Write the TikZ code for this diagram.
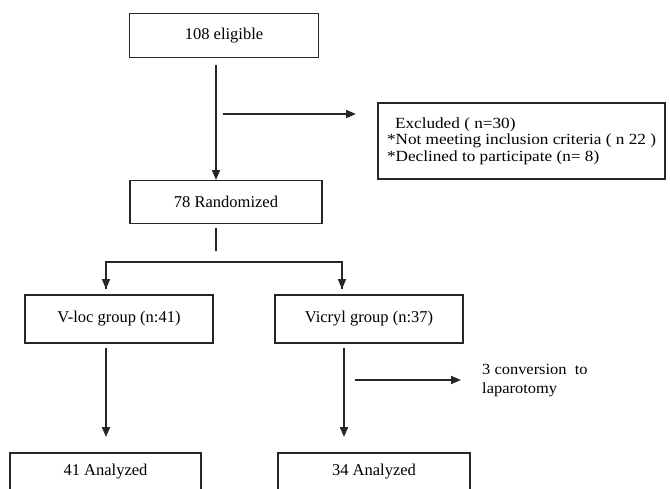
\documentclass[tikz,border=0pt]{standalone}
\usepackage{fontspec}
\setmainfont{Liberation Serif}
\newfontfamily\widefont[FakeStretch=1.11]{Liberation Serif}
\newfontfamily\convfont[FakeStretch=1.06]{Liberation Serif}
\usetikzlibrary{arrows.meta}
\begin{document}
\begin{tikzpicture}[x=1pt,y=-1pt,
  box/.style={draw=black!85,line width=1.6pt,minimum width=#1,inner sep=0pt,font=\fontsize{16.5}{18}\selectfont},
  conn/.style={draw=black!85,line width=1.8pt},
  arr/.style={conn,-{Triangle[length=10pt,width=8pt]}}]
\useasboundingbox (0,0) rectangle (670,488);
\node[box=287pt,minimum height=76pt,align=left,font=\widefont\fontsize{15.5}{16.5}\selectfont] (excl) at (521.5,141)
  {\hspace*{8pt}Excluded ( n=30)\\{*}Not meeting inclusion criteria ( n 22 )\\{*}Declined to participate (n= 8)};
\node[box=189pt,minimum height=44pt] (elig) at (224,35.5) {108 eligible};
\node[box=192pt,minimum height=43pt] (rand) at (226,202) {78 Randomized};
\node[box=188pt,minimum height=48pt] (vloc) at (119,319) {V-loc group (n:41)};
\node[box=188pt,minimum height=48pt] (vic) at (369,319) {Vicryl group (n:37)};
\node[box=191pt,minimum height=38pt,anchor=north] (an1) at (105.5,452) {41 Analyzed};
\node[box=192pt,minimum height=38pt,anchor=north] (an2) at (374,452) {34 Analyzed};
\node[font=\convfont\fontsize{15.5}{19}\selectfont,align=left,anchor=west,inner sep=0pt] (conv) at (482,381) {3 conversion\ \ to\\laparotomy};
% connector coordinates
\coordinate (e1) at (216,65);
\coordinate (e2) at (216,180);
\coordinate (x1) at (223,114);
\coordinate (x2) at (356,114);
\coordinate (r1) at (216,228);
\coordinate (r2) at (216,251);
\coordinate (hl) at (106,262);
\coordinate (hr) at (342,262);
\coordinate (hl2) at (106,289);
\coordinate (hr2) at (342,289);
\coordinate (v1) at (106,348);
\coordinate (v2) at (106,437);
\coordinate (w1) at (344,348);
\coordinate (w2) at (344,437);
\coordinate (c1) at (355,380);
\coordinate (c2) at (461,380);
\draw[arr] (e1) -- (e2);
\draw[arr] (x1) -- (x2);
\draw[conn] (r1) -- (r2);
\draw[conn] (hl2) -- (hl) -- (hr) -- (hr2);
\draw[arr] (hl) -- (hl2);
\draw[arr] (hr) -- (hr2);
\draw[arr] (v1) -- (v2);
\draw[arr] (w1) -- (w2);
\draw[arr] (c1) -- (c2);
\end{tikzpicture}
\end{document}
